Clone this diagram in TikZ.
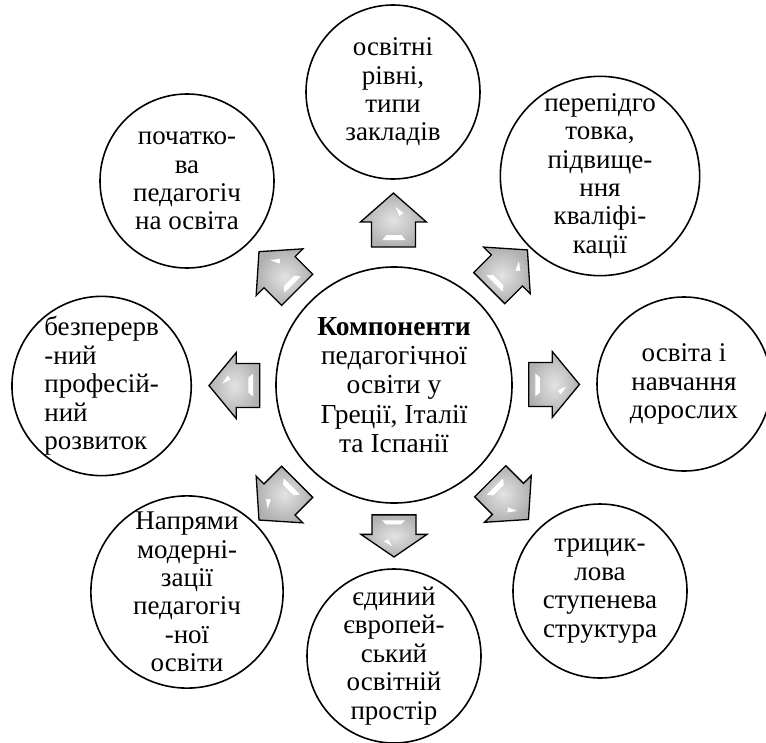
\documentclass[tikz,border=0pt]{standalone}
\usepackage{fontspec}
\setmainfont{Liberation Serif}
\usetikzlibrary{calc}
\begin{document}
\begin{tikzpicture}[x=1pt,y=-1pt,
  circ/.style={circle,draw=black,line width=1.6pt,fill=white,minimum size=174pt,
    inner sep=0pt,align=center,font=\fontsize{27}{28.4}\selectfont},
  maincirc/.style={circ,minimum size=236pt,font=\fontsize{27.5}{29.4}\selectfont},
  arrowbody/.style={draw=black,line width=1.3pt,inner color=gray!22,outer color=gray!62},
  pics/barrow/.style={code={
    \shadedraw[arrowbody] (0,-27)--(33,2)--(22,2)--(22,27)--(-22,27)--(-22,2)--(-33,2)--cycle;
    \fill[white] (2,-13)--(10,-7)--(6,-4)--cycle;
    \fill[white] (-11,20)--(12,20)--(8,15)--(-7,15)--cycle;
  }}]
\useasboundingbox (0,0) rectangle (766,742);
\node[maincirc] (c) at (394,385) {\textbf{Компоненти}\\педагогічної\\освіти у\\Греції, Італії\\та Іспанії};
\node[circ] (t) at (393,92) {освітні\\рівні,\\типи\\закладів};
\node[circ] (tr) at (600,176) {перепідго\\товка,\\підвище-\\ння\\кваліфі-\\кації};
\node[circ] (r) at (684,384) {освіта і\\навчання\\дорослих};
\node[circ] (br) at (600,591) {трицик-\\лова\\ступенева\\структура};
\node[circ] (b) at (394,656) {єдиний\\європей-\\ський\\освітній\\простір};
\node[circ] (bl) at (187,592) {Напрями\\модерні-\\зації\\педагогіч\\-ної\\освіти};
\node[circ,align=left] (l) at (101.6,386) {безперерв\\-ний\\професій-\\ний\\розвиток};
\node[circ] (tl) at (187,181) {початко-\\ва\\педагогіч\\на освіта};
\pic at ($(c)!0.563!(t)$) {barrow};
\pic[rotate=-45] at ($(c)!0.555!(tr)$) {barrow};
\pic[rotate=-90,yscale=0.94] at ($(c)!0.552!(r)$) {barrow};
\pic[rotate=-135] at ($(c)!0.56!(br)$) {barrow};
\pic[rotate=180,yscale=0.78] at ($(c)!0.557!(b)$) {barrow};
\pic[rotate=135] at ($(c)!0.56!(bl)$) {barrow};
\pic[rotate=90,yscale=0.94] at ($(c)!0.546!(l)$) {barrow};
\pic[rotate=45] at ($(c)!0.56!(tl)$) {barrow};
\end{tikzpicture}
\end{document}
